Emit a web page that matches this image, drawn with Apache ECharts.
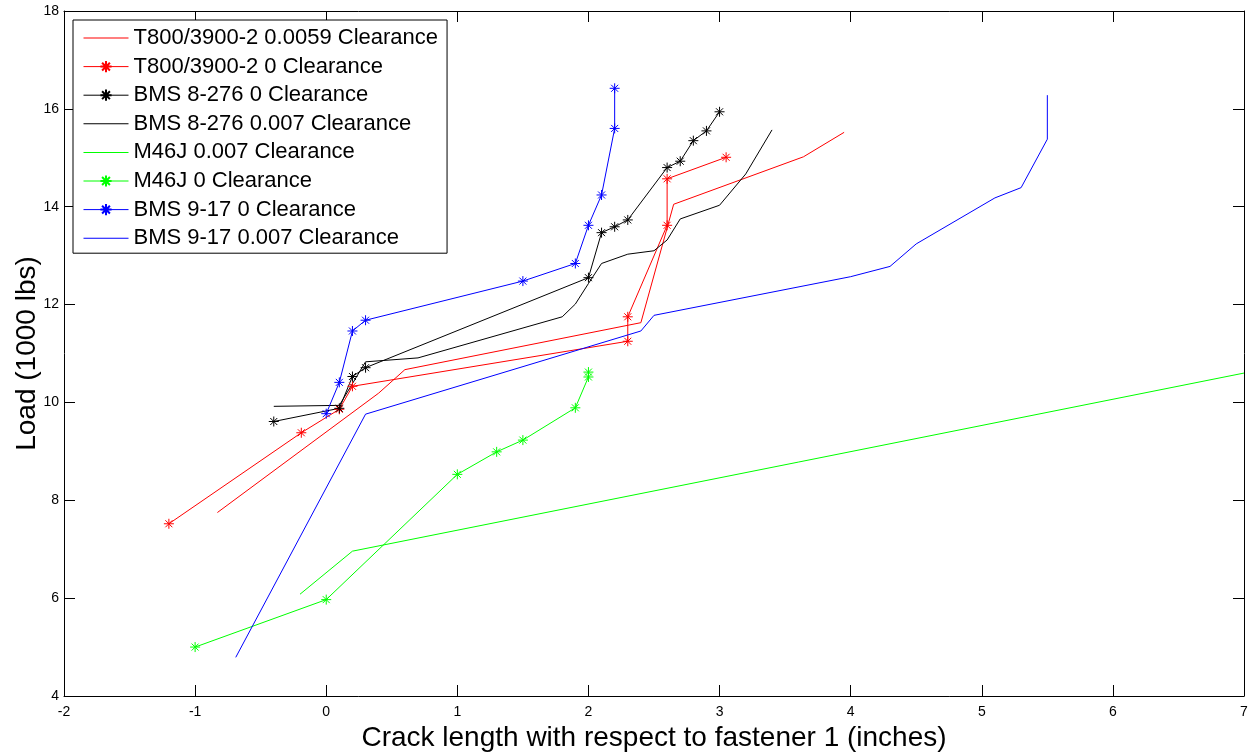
<!DOCTYPE html>
<html>
<head>
<meta charset="utf-8">
<script src="https://cdn.jsdelivr.net/npm/echarts@6/dist/echarts.min.js"></script>
<style>
  html, body { margin: 0; padding: 0; background: #fff; }
  #chart { width: 1253px; height: 752px; }
</style>
</head>
<body>
<div id="chart"></div>
<script>
// Crack length (inches) vs load (1000 lbs), one [x, y] pair per reading
const t800Clear = [[-0.83, 7.75], [0.40, 10.19], [0.60, 10.67], [2.40, 11.63], [2.65, 14.05], [3.64, 15.02], [3.95, 15.52]];
const t800Zero = [[-1.2, 7.52], [-0.19, 9.38], [0.10, 9.86], [0.20, 10.33], [2.30, 11.25], [2.30, 11.75], [2.60, 13.62], [2.60, 14.57], [3.05, 15.01]];
const bms8Zero = [[-0.4, 9.61], [0.1, 9.88], [0.2, 10.53], [0.3, 10.71], [2.0, 12.55], [2.1, 13.47], [2.2, 13.59], [2.3, 13.73], [2.6, 14.80], [2.7, 14.93], [2.8, 15.35], [2.9, 15.55], [3.0, 15.94]];
const bms8Clear = [[-0.4, 9.92], [0.1, 9.94], [0.3, 10.83], [0.7, 10.91], [1.8, 11.75], [1.9, 12.01], [2.0, 12.43], [2.1, 12.84], [2.3, 13.03], [2.5, 13.10], [2.6, 13.32], [2.7, 13.75], [3.0, 14.03], [3.2, 14.67], [3.4, 15.57]];
const m46Clear = [[-0.2, 6.08], [0.2, 6.96], [7.0, 10.60]];
const m46Zero = [[-1.0, 5.00], [0.0, 5.97], [1.0, 8.53], [1.3, 8.99], [1.5, 9.23], [1.9, 9.89], [2.0, 10.52], [2.0, 10.62]];
const bms9Zero = [[0.0, 9.77], [0.1, 10.41], [0.2, 11.46], [0.3, 11.68], [1.5, 12.48], [1.9, 12.84], [2.0, 13.62], [2.1, 14.24], [2.2, 15.60], [2.2, 16.42]];
const bms9Clear = [[-0.69, 4.79], [0.3, 9.76], [2.4, 11.46], [2.5, 11.78], [4.0, 12.57], [4.3, 12.78], [4.5, 13.24], [5.1, 14.18], [5.3, 14.39], [5.5, 15.38], [5.5, 16.28]];

const seriesNames = [
  'T800/3900-2 0.0059 Clearance',
  'T800/3900-2 0 Clearance',
  'BMS 8-276 0 Clearance',
  'BMS 8-276 0.007 Clearance',
  'M46J 0.007 Clearance',
  'M46J 0 Clearance',
  'BMS 9-17 0 Clearance',
  'BMS 9-17 0.007 Clearance'
];
const xLabel = 'Crack length with respect to fastener 1 (inches)';
const yLabel = 'Load (1000 lbs)';

const FONT = '"Liberation Sans", Arial, Helvetica, sans-serif';
// asterisk marker: vertical, horizontal and two diagonal strokes
const STAR = 'path://M0,-10L0,10M-10,0L10,0M-7,-7L7,7M-7,7L7,-7';
// legend swatch for line-only series: a thin horizontal bar
const LINE_ICON = 'path://M0,0H45V1H0Z';

function plain(name, data, color) {
  return {
    name, type: 'line', data, symbol: 'none', showSymbol: false,
    lineStyle: { color, width: 1 }, itemStyle: { color },
    emphasis: { disabled: true }
  };
}
function starred(name, data, color) {
  return {
    name, type: 'line', data, symbol: STAR, symbolSize: 10, showSymbol: true,
    lineStyle: { color, width: 1 },
    itemStyle: { color, borderColor: color, borderWidth: 1 },
    emphasis: { disabled: true }
  };
}

const series = [
  plain(seriesNames[0], t800Clear, '#ff0000'),
  starred(seriesNames[1], t800Zero, '#ff0000'),
  starred(seriesNames[2], bms8Zero, '#000000'),
  plain(seriesNames[3], bms8Clear, '#000000'),
  plain(seriesNames[4], m46Clear, '#00ff00'),
  starred(seriesNames[5], m46Zero, '#00ff00'),
  starred(seriesNames[6], bms9Zero, '#0000ff'),
  plain(seriesNames[7], bms9Clear, '#0000ff')
];

const legendData = series.map(s =>
  s.symbol === 'none' ? { name: s.name, icon: LINE_ICON } : { name: s.name }
);

const axisCommon = {
  axisLine: { show: true, onZero: false, lineStyle: { color: '#000', width: 1 } },
  axisTick: { show: true, inside: true, length: 11, lineStyle: { color: '#000' } },
  splitLine: { show: false }
};

const chart = echarts.init(document.getElementById('chart'), null, { renderer: 'canvas' });
chart.setOption({
  animation: false,
  backgroundColor: '#fff',
  grid: { left: 64, right: 9, top: 11, bottom: 56, containLabel: false, outerBoundsMode: 'none' },
  legend: {
    orient: 'vertical', left: 73, top: 20,
    data: legendData,
    itemWidth: 45, itemHeight: 14, itemGap: 4.6,
    padding: [6, 9, 3, 10],
    borderColor: '#000', borderWidth: 1, backgroundColor: '#fff',
    lineStyle: { width: 1 },
    textStyle: { fontFamily: FONT, fontSize: 22, lineHeight: 24, color: '#000' },
    selectedMode: false
  },
  xAxis: [
    Object.assign({
      type: 'value', min: -2, max: 7, interval: 1, position: 'bottom',
      name: xLabel, nameLocation: 'middle', nameGap: 26,
      nameTextStyle: { fontFamily: FONT, fontSize: 28, color: '#000' },
      axisLabel: { fontFamily: FONT, fontSize: 14, color: '#000', margin: 9 }
    }, axisCommon),
    Object.assign({
      type: 'value', min: -2, max: 7, interval: 1, position: 'top',
      axisLabel: { show: false }
    }, axisCommon)
  ],
  yAxis: [
    Object.assign({
      type: 'value', min: 4, max: 18, interval: 2, position: 'left',
      name: yLabel, nameLocation: 'middle', nameGap: 23, nameMoveOverlap: false,
      nameTextStyle: { fontFamily: FONT, fontSize: 28, color: '#000' },
      axisLabel: { fontFamily: FONT, fontSize: 14, color: '#000', margin: 5 }
    }, axisCommon),
    Object.assign({
      type: 'value', min: 4, max: 18, interval: 2, position: 'right',
      axisLabel: { show: false }
    }, axisCommon)
  ],
  series: series
});
</script>
</body>
</html>
